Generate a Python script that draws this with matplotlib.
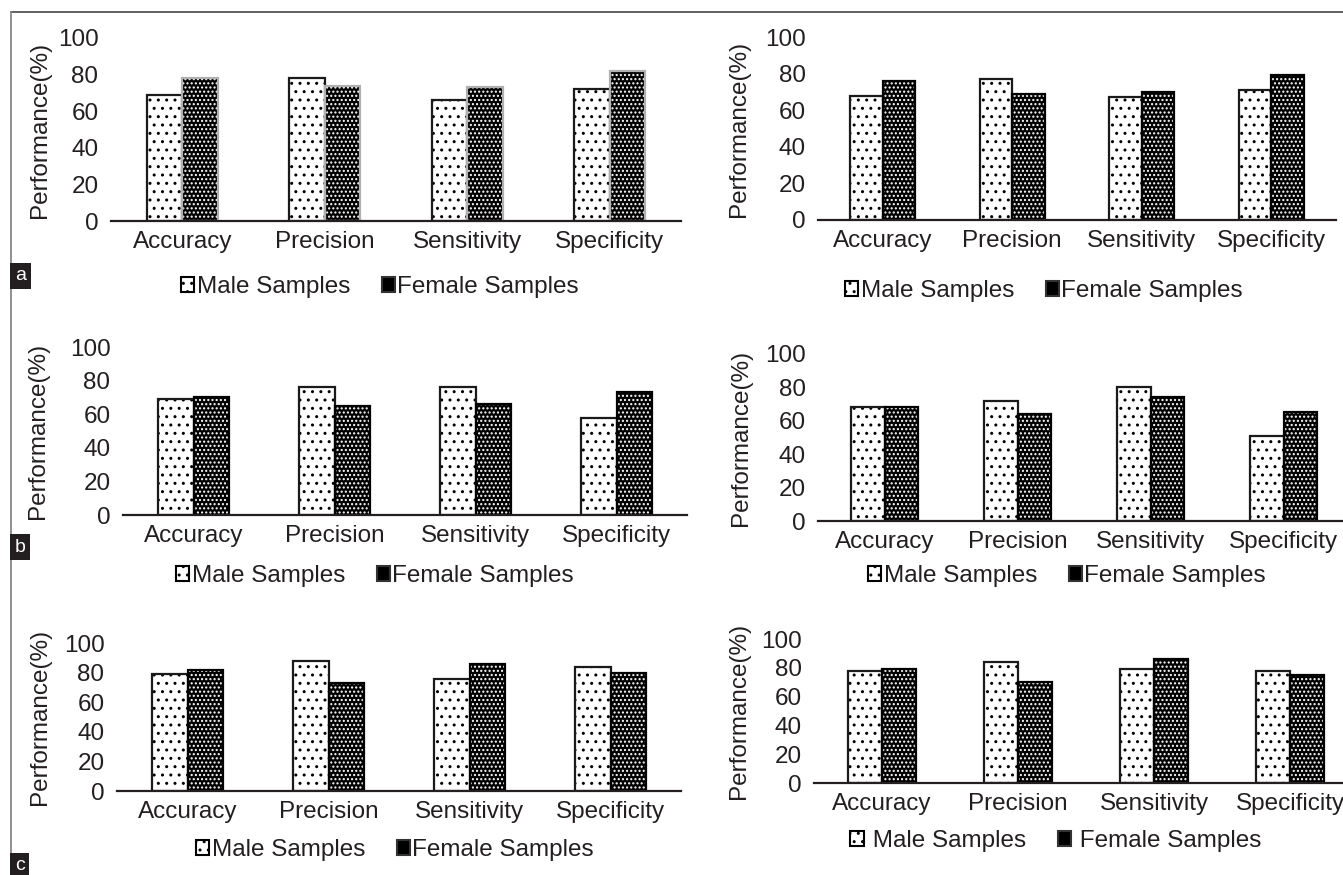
import numpy as np
import matplotlib
matplotlib.use("Agg")
import matplotlib.pyplot as plt
from matplotlib.patches import Rectangle
from matplotlib.lines import Line2D

plt.rcParams['font.family'] = ['Liberation Sans', 'DejaVu Sans']
plt.rcParams['hatch.linewidth'] = 1.0

W, H = 1343, 875
TXT = '#231f20'
FS = 17.5

categories = ['Accuracy', 'Precision', 'Sensitivity', 'Specificity']
series_names = ['Male Samples', 'Female Samples']

# values per panel
a1_male = [69, 78, 66, 72]
a1_female = [78, 74, 73, 82]
a2_male = [68, 77, 67, 71]
a2_female = [76, 69, 70, 79]
b1_male = [69, 76, 76, 58]
b1_female = [70, 65, 66, 73]
b2_male = [68, 72, 80, 51]
b2_female = [68, 64, 74, 65]
c1_male = [79, 88, 76, 84]
c1_female = [82, 73, 86, 80]
c2_male = [78, 84, 79, 78]
c2_female = [79, 70, 86, 75]

yticks = [0, 20, 40, 60, 80, 100]

# panel boxes in pixels: left, right, y of 0, y of 100, legend centre, ylabel x
panels = [
    dict(male=a1_male, female=a1_female, box=(111, 681, 221, 38), leg=(380, 287), ylx=40, fedge='#b0b0b0', gap=''),
    dict(male=a2_male, female=a2_female, box=(818, 1336, 220, 37), leg=(1044, 291), ylx=739, fedge='black', gap=''),
    dict(male=b1_male, female=b1_female, box=(123, 687, 515, 347), leg=(375, 576), ylx=38, fedge='black', gap=''),
    dict(male=b2_male, female=b2_female, box=(818, 1350, 521, 354), leg=(1067, 576), ylx=741, fedge='black', gap=''),
    dict(male=c1_male, female=c1_female, box=(117, 681, 791, 643), leg=(395, 850), ylx=40, fedge='black', gap=''),
    dict(male=c2_male, female=c2_female, box=(814, 1358, 783, 639), leg=(1056, 841), ylx=739, fedge='black', gap=' '),
]

fig = plt.figure(figsize=(W / 100, H / 100), dpi=100)

x = np.arange(len(categories))
bw = 0.25

for p in panels:
    l, r, y0, y100 = p['box']
    ax = fig.add_axes([l / W, 1 - y0 / H, (r - l) / W, (y0 - y100) / H])
    ax.set_xlim(-0.5, len(categories) - 0.5)
    ax.set_ylim(0, 100)

    # male: white with sparse black dots
    ax.bar(x - bw / 2, p['male'], bw, color='white', edgecolor='black',
           hatch='..', linewidth=0, zorder=2)
    ax.bar(x - bw / 2, p['male'], bw, fill=False, edgecolor='#1a1a1a',
           linewidth=1.6, zorder=3)
    # female: black with dense white dots
    ax.bar(x + bw / 2, p['female'], bw, color='black', edgecolor='white',
           hatch='....', linewidth=0, zorder=2)
    ax.bar(x + bw / 2, p['female'], bw, fill=False, edgecolor=p['fedge'],
           linewidth=1.6, zorder=3)

    for s in ['left', 'top', 'right']:
        ax.spines[s].set_visible(False)
    ax.spines['bottom'].set_color('#231f20')
    ax.spines['bottom'].set_linewidth(1.6)
    ax.spines['bottom'].set_zorder(4)
    ax.set_yticks(yticks)
    ax.set_xticks(x)
    ax.set_xticklabels(categories)
    ax.tick_params(axis='both', length=0, labelsize=FS, labelcolor=TXT)
    ax.tick_params(axis='y', pad=9)
    ax.tick_params(axis='x', pad=7)
    ax.patch.set_alpha(0)

    fig.text(p['ylx'] / W, 1 - (y0 + y100) / 2 / H, 'Performance(%)',
             rotation=90, ha='center', va='center', fontsize=FS, color=TXT)

    h_m = Rectangle((0, 0), 1, 1, facecolor='white', edgecolor='black',
                    hatch='..', linewidth=1.5)
    h_f = Rectangle((0, 0), 1, 1, facecolor='black', edgecolor='#333333',
                    linewidth=1.5)
    fig.legend([h_m, h_f], [p['gap'] + n for n in series_names], ncol=2,
               loc='center', bbox_to_anchor=(p['leg'][0] / W, 1 - p['leg'][1] / H),
               frameon=False, fontsize=FS, handlelength=0.55, handleheight=0.55,
               handletextpad=0.1, columnspacing=1.3, labelcolor=TXT)

# panel letters
for lab, (lx, ly) in zip(['a', 'b', 'c'], [(12, 276), (12, 547), (12, 866)]):
    fig.text(lx / W + 0.002, 1 - ly / H, lab, ha='left', va='center',
             fontsize=14, color='white',
             bbox=dict(boxstyle='square,pad=0.25', facecolor='#231f20', edgecolor='none'))

# outer frame (top and left)
fig.add_artist(Line2D([11 / W, 1], [1 - 12 / H, 1 - 12 / H], color='#555555', linewidth=1.3))
fig.add_artist(Line2D([11 / W, 11 / W], [0, 1 - 12 / H], color='#888888', linewidth=1.3))

fig.savefig('out.png', dpi=100)
